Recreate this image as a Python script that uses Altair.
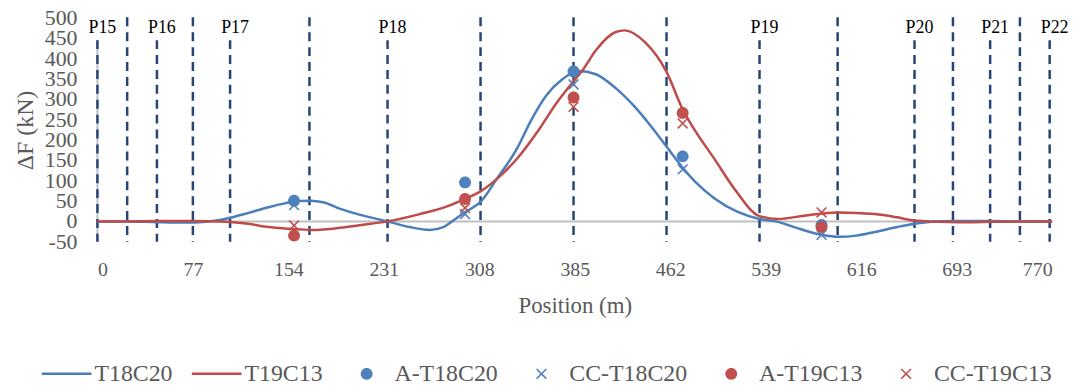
import altair as alt
import pandas as pd

# ---- curves ----
t18_pos = [0, 24, 48, 62, 77, 90, 100, 110, 122, 138, 152, 163, 172, 182, 196, 212, 234, 252, 268, 279, 286,
           296, 309, 322, 338, 350, 362, 375, 388, 402, 418, 434, 446, 459, 472, 482, 498, 516, 534, 547, 562,
           584, 598, 612, 627, 645, 659, 675, 690, 720, 744, 770]
t18_val = [0, 0, -2, -3, -3, 0, 4, 11, 21, 35, 45, 50, 51, 47, 31, 16, 0, -14, -21, -14, 0,
           22, 48, 104, 177, 250, 310, 350, 370, 362, 328, 280, 236, 184, 132, 98, 56, 24, 6, 0, -14,
           -33, -38, -35, -26, -14, -6, 0, 1, 1, 0, 0]
t19_pos = [0, 24, 48, 77, 100, 120, 138, 155, 172, 190, 210, 234, 260, 282, 296, 309, 322, 338, 357, 370,
           384, 392, 402, 418, 425, 442, 459, 472, 480, 498, 514, 534, 549, 570, 597, 627, 645, 659, 672,
           700, 720, 744, 770]
t19_val = [0, 0, 1, 1, 0, -5, -14, -18, -21, -18, -10, 0, 18, 37, 55, 74, 104, 153, 230, 290,
           345, 375, 421, 466, 470, 440, 368, 276, 233, 152, 79, 13, 6, 14, 22, 18, 10, 2, 0,
           -2, -1, 0, 0]

# ---- measurements ----
meas_pos = [158.6, 296.5, 384, 472, 584]
a_t18 = [51, 96, 369, 160, -9]
cc_t18 = [40, 18, 337, 128, -33]
a_t19 = [-35, 55, 305, 267, -14]
cc_t19 = [-10, 33, 282, 241, 22]

# ---- piers and joints ----
pier_names = ["P15", "P16", "P17", "P18", "P19", "P20", "P21", "P22"]
pier_pos = [0, 48, 107, 234, 534, 659, 720, 768]
joint_pos = [24, 77, 171, 309, 384, 459, 597, 690, 744]

x_ticks = [0, 77, 154, 231, 308, 385, 462, 539, 616, 693, 770]
y_ticks = [-50, 0, 50, 100, 150, 200, 250, 300, 350, 400, 450, 500]
y_tick_labels = ["-50", "0", "50", "100", "150", "200", "250", "300", "350", "400", "450", "500"]

series = ["T18C20", "T19C13", "A-T18C20", "CC-T18C20", "A-T19C13", "CC-T19C13"]
colors = ["#4A7EBB", "#BE4B48", "#4F81BD", "#4F81BD", "#C0504D", "#C0504D"]

# filled symbol paths (unit square -1..1)
LINE = "M-1,-0.05L1,-0.05L1,0.05L-1,0.05Z"
CIRC = "M-0.24,0A0.24,0.24 0 1,0 0.24,0A0.24,0.24 0 1,0 -0.24,0Z"
a, d = 0.22, 0.045
XSH = (f"M{-a},{-a+d}L{-a+d},{-a}L0,{-d}L{a-d},{-a}L{a},{-a+d}L{d},0L{a},{a-d}L{a-d},{a}"
       f"L0,{d}L{-a+d},{a}L{-a},{a-d}L{-d},0Z")
shapes = [LINE, LINE, CIRC, XSH, CIRC, XSH]

FONT = "Liberation Serif"
GREY = "#595959"

t18_df = pd.DataFrame({"pos": t18_pos, "val": t18_val})
t19_df = pd.DataFrame({"pos": t19_pos, "val": t19_val})
pts_df = pd.concat([
    pd.DataFrame({"pos": meas_pos, "val": a_t18, "series": "A-T18C20"}),
    pd.DataFrame({"pos": meas_pos, "val": cc_t18, "series": "CC-T18C20"}),
    pd.DataFrame({"pos": meas_pos, "val": a_t19, "series": "A-T19C13"}),
    pd.DataFrame({"pos": meas_pos, "val": cc_t19, "series": "CC-T19C13"}),
])
piers_df = pd.DataFrame({"pos": pier_pos, "name": pier_names})
joints_df = pd.DataFrame({"pos": joint_pos})
yt_df = pd.DataFrame({"val": y_ticks, "lab": y_tick_labels})

xs = alt.Scale(domain=[0, 770], nice=False, zero=False)
ys = alt.Scale(domain=[-50, 500], nice=False)
cs = alt.Scale(domain=series, range=colors)
ss = alt.Scale(domain=series, range=shapes)

x_axis = alt.Axis(values=x_ticks, domain=False, ticks=False, grid=False, labelFont=FONT,
                  labelFontSize=20, labelColor=GREY, labelPadding=18, labelOverlap=False,
                  title="Position (m)", titleFont=FONT, titleFontSize=23, titleFontWeight="normal",
                  titleColor=GREY, titlePadding=15)
y_axis = alt.Axis(values=y_ticks, domain=False, ticks=False, grid=False, labels=False,
                  title="ΔF (kN)", titleFont=FONT, titleFontSize=24, titleFontWeight="normal",
                  titleColor=GREY, titlePadding=60)

base_x = alt.X("pos:Q", scale=xs, axis=x_axis)
base_y = alt.Y("val:Q", scale=ys, axis=y_axis)

zero = alt.Chart(pd.DataFrame({"val": [0]})).mark_rule(color="#BFBFBF", strokeWidth=2).encode(
    y=base_y, x=alt.datum(0, scale=xs), x2=alt.datum(770))

yaxis_line = alt.Chart(pd.DataFrame({"pos": [0]})).mark_rule(color="#BFBFBF", strokeWidth=2).encode(
    x=base_x, y=alt.datum(446), y2=alt.datum(-50))

ylabels = alt.Chart(yt_df).mark_text(font=FONT, fontSize=22, color=GREY, align="right",
                                     baseline="middle", dx=-20).encode(
    x=alt.datum(0, scale=xs), y=base_y, text="lab:N")

pier_rules = alt.Chart(piers_df).mark_rule(color="#264478", strokeWidth=2.5, strokeDash=[9, 6]).encode(
    x=base_x, y=alt.datum(446), y2=alt.datum(-50))
joint_rules = alt.Chart(joints_df).mark_rule(color="#264478", strokeWidth=2.5, strokeDash=[9, 6]).encode(
    x=base_x, y=alt.datum(502), y2=alt.datum(-50))

line18 = alt.Chart(t18_df).mark_line(strokeWidth=2.5, interpolate="monotone", color="#4A7EBB").encode(
    x=base_x, y=base_y)
line19 = alt.Chart(t19_df).mark_line(strokeWidth=2.5, interpolate="monotone", color="#BE4B48").encode(
    x=base_x, y=base_y)

legend = alt.Legend(orient="none", legendX=-56, legendY=333, direction="horizontal", columns=6,
                    title=None, symbolSize=2500, symbolStrokeWidth=0, labelFont=FONT,
                    labelFontSize=24, labelColor=GREY, labelOffset=3, columnPadding=19,
                    labelLimit=300)
points = alt.Chart(pts_df).mark_point(filled=True, size=2500, opacity=1, strokeWidth=0).encode(
    x=base_x, y=base_y,
    color=alt.Color("series:N", scale=cs, legend=legend, sort=series),
    shape=alt.Shape("series:N", scale=ss, legend=legend, sort=series))

labels = alt.Chart(piers_df).mark_text(font=FONT, fontSize=18, color="black", dx=5, baseline="middle").encode(
    x=base_x, y=alt.datum(477), text="name:N")

chart = alt.layer(zero, yaxis_line, ylabels, pier_rules, joint_rules, line18, line19, points, labels).properties(
    width=961, height=225, autosize=alt.AutoSizeParams(type="none"),
    padding={"left": 90, "top": 9, "right": 22, "bottom": 148}
).configure_view(stroke=None)

chart.save("out.html", embed_options={"renderer": "svg", "actions": False})
